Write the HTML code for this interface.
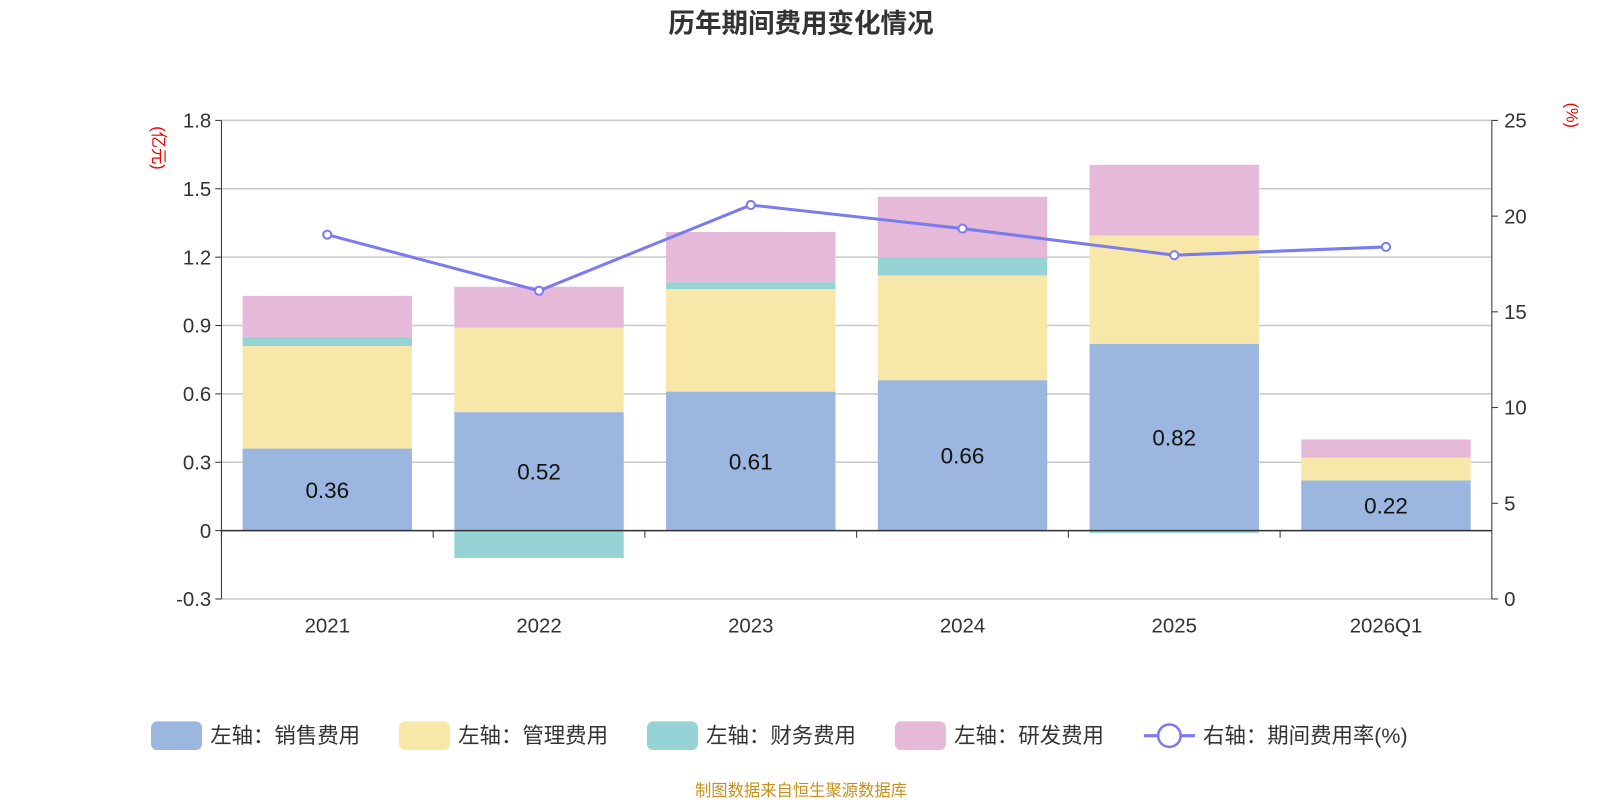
<!DOCTYPE html>
<html><head><meta charset="utf-8"><style>
body{margin:0;background:#fff;}
svg text{font-family:"Liberation Sans","Noto Sans CJK SC",sans-serif;}
</style></head><body>
<svg id="c" width="1600" height="800" viewBox="0 0 1568 784" xmlns="http://www.w3.org/2000/svg">
<text x="785" y="32" text-anchor="middle" font-size="26" font-weight="bold" fill="#333">历年期间费用变化情况</text>
<text x="150" y="145" font-size="16" fill="#e00" transform="rotate(90 150 145)" text-anchor="middle">(亿元)</text>
<text x="1535" y="113" font-size="16" fill="#e00" transform="rotate(90 1535 113)" text-anchor="middle">(%)</text>
<g id="grid"></g><g id="bars"></g><g id="axes"></g><g id="line"></g>
<g id="legend"></g>
<text x="785" y="780" text-anchor="middle" font-size="16" fill="#c8901a">制图数据来自恒生聚源数据库</text>
</svg>
<script>
const categories=["2021","2022","2023","2024","2025","2026Q1"];
const sales=[0.36,0.52,0.61,0.66,0.82,0.22];
const admin=[0.45,0.37,0.45,0.46,0.475,0.10];
const finance=[0.04,-0.12,0.03,0.08,-0.01,0.0];
const rnd=[0.18,0.18,0.22,0.265,0.31,0.08];
const rate=[19.03,16.1,20.58,19.35,17.96,18.39];
const leftTicks=[-0.3,0,0.3,0.6,0.9,1.2,1.5,1.8];
const rightTicks=[0,5,10,15,20,25];
const NS="http://www.w3.org/2000/svg";
const X0=217,X1=1462,T=118,B=587;
const yL=v=>B-(v+0.3)/2.1*(B-T);
const yR=v=>B-v/25*(B-T);
const cw=(X1-X0)/categories.length;
const xC=i=>X0+cw*(i+0.5);
function mk(tag,attrs,parent){const e=document.createElementNS(NS,tag);for(const k in attrs)e.setAttribute(k,attrs[k]);document.getElementById(parent).appendChild(e);return e;}
leftTicks.forEach(t=>{
 const l=mk('line',{x1:X0,x2:X1,y1:yL(t),y2:yL(t),stroke:'#c8c8c8','stroke-width':1.5},'grid');
 
 
 const tx=mk('text',{x:X0-10,y:yL(t)+7,'text-anchor':'end','font-size':20,fill:'#333'},'axes');tx.textContent=t===0?'0':t.toFixed(1);
 
 
 mk('line',{x1:X0-6,x2:X0,y1:yL(t),y2:yL(t),stroke:'#333'},'axes');
});
rightTicks.forEach(t=>{
 const tx=mk('text',{x:X1+12,y:yR(t)+7,'font-size':20,fill:'#333'},'axes');tx.textContent=t;
 
 
 mk('line',{x1:X1,x2:X1+6,y1:yR(t),y2:yR(t),stroke:'#333'},'axes');
});
mk('line',{x1:X0,x2:X0,y1:T,y2:B,stroke:'#333'},'axes');
mk('line',{x1:X1,x2:X1,y1:T,y2:B,stroke:'#333'},'axes');
mk('line',{x1:X0,x2:X1,y1:yL(0),y2:yL(0),stroke:'#333','stroke-width':1.5},'axes');
categories.forEach((c,i)=>{
 mk('line',{x1:X0+cw*i,x2:X0+cw*i,y1:yL(0),y2:yL(0)+7,stroke:'#333'},'axes');
 const tx=mk('text',{x:xC(i),y:620,'text-anchor':'middle','font-size':20,fill:'#333'},'axes');tx.textContent=c;
 
 
});
const series=[[sales,'#9bb7e0','sales'],[admin,'#f7e7a8','admin'],[finance,'#96d3d4','finance'],[rnd,'#e6b9d9','rnd']];
const bw=166;
categories.forEach((c,i)=>{
 let pos=0,neg=0;
 series.forEach(([arr,col,nm])=>{
  const v=arr[i];let a,b;
  if(v>=0){a=pos;b=pos+v;pos=b;}else{a=neg;b=neg+v;neg=b;}
  const r=mk('rect',{x:xC(i)-bw/2,y:Math.min(yL(a),yL(b)),width:bw,height:Math.abs(yL(a)-yL(b)),fill:col},'bars');
  
  
 });
 const tx=mk('text',{x:xC(i),y:yL(sales[i]/2)+8,'text-anchor':'middle','font-size':22,fill:'#111'},'bars');tx.textContent=sales[i].toFixed(2);
 
 
});
const pl=mk('polyline',{points:rate.map((v,i)=>xC(i)+','+yR(v)).join(' '),fill:'none',stroke:'#7b7bf0','stroke-width':3},'line');


rate.forEach((v,i)=>{
 const p=mk('circle',{cx:xC(i),cy:yR(v),r:4,fill:'#fff',stroke:'#7b7bf0','stroke-width':2},'line');
 
 
});
const leg=[['左轴：销售费用','#9bb7e0',148],['左轴：管理费用','#f7e7a8',391],['左轴：财务费用','#96d3d4',634],['左轴：研发费用','#e6b9d9',877]];
leg.forEach(([t,col,x])=>{
 const r=mk('rect',{x:x,y:707,width:50,height:28,rx:6,fill:col},'legend');
 
 
 const tx=mk('text',{x:x+58,y:728,'font-size':21,fill:'#333'},'legend');tx.textContent=t;
 
 
});
mk('line',{x1:1121,x2:1171,y1:721,y2:721,stroke:'#7b7bf0','stroke-width':3},'legend');
mk('circle',{cx:1146,cy:721,r:11,fill:'#fff',stroke:'#7b7bf0','stroke-width':2.5},'legend');
const lt=mk('text',{x:1179,y:728,'font-size':21,fill:'#333'},'legend');lt.textContent='右轴：期间费用率(%)';


</script>
</body></html>
